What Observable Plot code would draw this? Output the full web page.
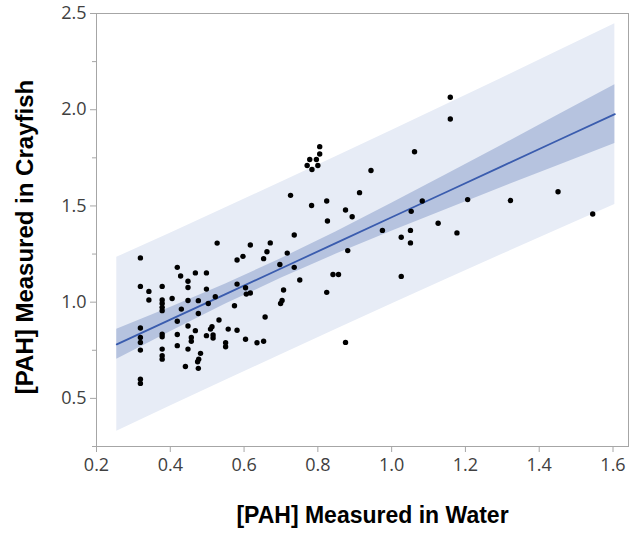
<!DOCTYPE html>
<html><head><meta charset="utf-8">
<script src="https://cdn.jsdelivr.net/npm/d3@7"></script>
<script src="https://cdn.jsdelivr.net/npm/@observablehq/plot@0.6"></script>
<style>body{margin:0;background:#fff}</style>
</head><body><div id="chart"></div>
<script>
const waterX = [0.319,0.319,0.319,0.319,0.319,0.319,0.319,0.319,
0.342,0.342,
0.378,0.378,0.378,0.378,0.378,0.378,0.378,0.378,0.378,0.378,
0.405,0.419,0.428,0.430,0.419,0.419,0.419,0.441,
0.448,0.448,0.448,0.448,0.448,0.457,0.457,
0.468,0.476,0.476,0.468,0.482,0.477,0.474,0.476,
0.498,0.498,0.503,0.498,0.513,0.509,0.516,0.516,0.522,0.527,0.532,
0.550,0.550,0.557,0.574,0.581,0.581,0.581,0.597,0.604,0.606,0.617,0.604,0.617,
0.635,0.653,0.653,0.662,0.671,0.657,
0.697,0.707,0.703,0.699,0.717,0.726,0.736,0.736,0.751,
0.771,0.778,0.784,0.796,0.800,0.805,0.805,0.783,0.824,0.826,0.824,0.841,0.856,
0.875,0.893,0.881,0.875,0.913,0.944,0.975,
1.026,1.026,1.051,1.051,1.053,1.062,1.083,1.126,1.159,1.159,1.177,1.206,1.322,1.451,1.545];
const crayfishY = [1.230,1.082,0.866,0.817,0.791,0.751,0.600,0.578,
1.056,1.011,
1.082,1.011,0.993,0.973,0.956,0.834,0.820,0.756,0.722,0.704,
1.019,1.181,1.136,0.964,0.901,0.832,0.774,0.666,
1.109,1.076,1.009,0.876,0.756,0.817,0.797,
1.152,1.008,0.941,0.852,0.734,0.704,0.690,0.656,
1.152,1.068,0.993,0.826,0.872,0.860,0.829,0.814,1.028,1.307,0.907,
0.789,0.768,0.860,0.981,1.094,1.219,0.854,1.238,1.075,1.042,1.048,0.807,1.297,
0.789,0.797,1.226,1.262,1.308,0.923,
1.196,1.063,1.009,0.993,1.255,1.555,1.349,1.181,1.115,
1.710,1.741,1.689,1.741,1.710,1.770,1.808,1.502,1.526,1.422,1.051,1.144,1.144,
1.479,1.444,1.268,0.791,1.569,1.684,1.373,
1.337,1.134,1.373,1.308,1.472,1.782,1.526,1.410,2.065,1.952,1.360,1.533,1.528,1.574,1.458];

// fit line and bands
const bandX = [0.255,0.4,0.55,0.7,0.85,1.0,1.15,1.3,1.45,1.605];
const fitY  = [0.781,0.909,1.042,1.175,1.308,1.441,1.574,1.707,1.840,1.977];
const ciLow  = [0.703,0.846,0.990,1.124,1.250,1.368,1.483,1.597,1.709,1.824];
const ciHigh = [0.859,0.972,1.094,1.226,1.366,1.514,1.665,1.817,1.971,2.130];
const piLow  = [0.329,0.460,0.594,0.727,0.859,0.990,1.120,1.249,1.376,1.507];
const piHigh = [1.233,1.358,1.490,1.623,1.757,1.892,2.028,2.165,2.304,2.447];

const xTicks = [0.2,0.4,0.6,0.8,1.0,1.2,1.4,1.6];
const yTicks = [0.5,1.0,1.5,2.0,2.5];
const yMinorTicks = [0.25,0.75,1.25,1.75,2.25];
const xTitle = "[PAH] Measured in Water";
const yTitle = "[PAH] Measured in Crayfish";

const points = waterX.map((x, i) => ({x, y: crayfishY[i]}));
const band = bandX.map((x, i) => ({x, fit: fitY[i], ciLo: ciLow[i], ciHi: ciHigh[i], piLo: piLow[i], piHi: piHigh[i]}));

const gray = "#a6a6a6";
const chart = Plot.plot({
  width: 641, height: 533,
  marginTop: 13, marginBottom: 87, marginLeft: 96, marginRight: 13,
  style: {fontFamily: "'Open Sans', sans-serif", fontSize: "18px", color: "#404040", background: "#fff"},
  x: {domain: [0.2, 1.642]},
  y: {domain: [0.25, 2.5]},
  marks: [
    Plot.areaY(band, {x: "x", y1: "piLo", y2: "piHi", fill: "#e7ecf6"}),
    Plot.areaY(band, {x: "x", y1: "ciLo", y2: "ciHi", fill: "#b6c3df"}),
    Plot.line(band, {x: "x", y: "fit", stroke: "#3a5cae", strokeWidth: 1.8}),
    Plot.dot(points, {x: "x", y: "y", r: 2.7, fill: "#000", stroke: "none"}),
    Plot.frame({stroke: gray}),
    Plot.axisX(xTicks, {tickFormat: d3.format(".1f"), tickSize: 6, tickPadding: 6, stroke: gray, label: null}),
    Plot.axisY(yTicks, {tickFormat: d3.format(".1f"), tickSize: 6, tickPadding: 4, stroke: gray, label: null}),
    Plot.axisY(yMinorTicks, {tickFormat: () => "", tickSize: 4, stroke: gray, label: null}),
    Plot.text([xTitle], {text: d => d, frameAnchor: "bottom", textAnchor: "middle", lineAnchor: "middle", dx: 10, dy: 69, fontWeight: "bold", fontSize: 23, fontFamily: "'Liberation Sans', Arial, sans-serif", fill: "#000"}),
    Plot.text([yTitle], {text: d => d, frameAnchor: "left", textAnchor: "middle", lineAnchor: "middle", rotate: -90, dx: -71, dy: 7, fontWeight: "bold", fontSize: 24, fontFamily: "'Liberation Sans', Arial, sans-serif", fill: "#000"})
  ]
});
document.getElementById("chart").appendChild(chart);
</script>
</body></html>
